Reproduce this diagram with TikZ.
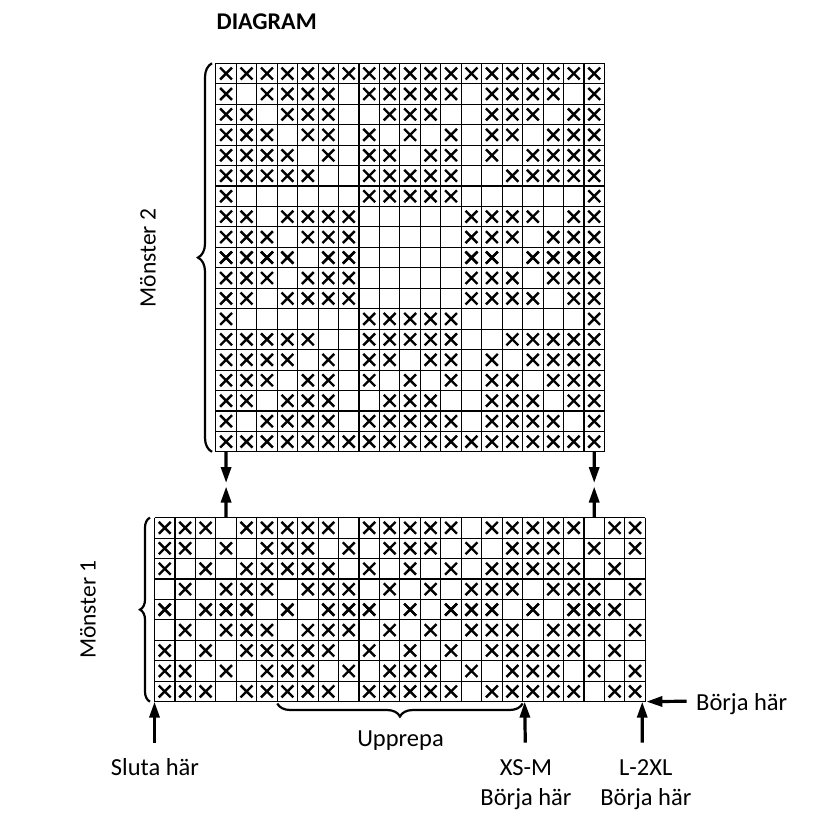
\documentclass[tikz,border=0pt]{standalone}
\usepackage{fontspec}
\setmainfont{Carlito}
\usetikzlibrary{arrows.meta,decorations.pathreplacing}

\begin{document}
\begin{tikzpicture}[x=1pt,y=-1pt,
        gridline/.style={line width=1.1pt},
        stitch/.style={line width=2.4pt},
        bracket/.style={decorate,decoration={brace,amplitude=#1},line width=2.2pt},
        pointer/.style={-{Triangle[length=16pt,width=10pt]},line width=3.2pt},
        lbl/.style={font=\fontsize{24.5}{28}\selectfont,inner sep=0pt}]
  \useasboundingbox (0,0) rectangle (814,830);
  \node[font=\bfseries\fontsize{24}{28}\selectfont] (title) at (266.7,22) {DIAGRAM};

  % Mönster 2
  \begin{scope}[shift={(215.85pt,-63.3pt)},x=20.45pt,y=-20.45pt]
    \foreach \i in {0,...,19} {
      \draw[gridline] (\i,0) -- (\i,19);
      \draw[gridline] (0,\i) -- (19,\i);
    }
    \foreach \r/\cols in {0/{0,...,18},
        1/{0,2,3,4,5,7,8,9,10,11,13,14,15,16,18},
        2/{0,1,3,4,5,8,9,10,13,14,15,17,18},
        3/{0,1,2,4,5,7,9,11,13,14,16,17,18},
        4/{0,1,2,3,5,7,8,10,11,13,15,16,17,18},
        5/{0,1,2,3,4,7,8,9,10,11,14,15,16,17,18},
        6/{0,7,8,9,10,11,18},
        7/{0,1,3,4,5,6,12,13,14,15,17,18},
        8/{0,1,2,4,5,6,12,13,14,16,17,18},
        9/{0,1,2,3,5,6,12,13,15,16,17,18}} {
      \foreach \c in \cols {
        \draw[stitch] (\c+0.21,\r+0.21) -- ++(0.58,0.58) (\c+0.21,\r+0.79) -- ++(0.58,-0.58);
        \draw[stitch] (\c+0.21,18-\r+0.21) -- ++(0.58,0.58) (\c+0.21,18-\r+0.79) -- ++(0.58,-0.58);
      }
    }
    \coordinate (m2-a) at (0.5,19);
    \coordinate (m2-b) at (18.5,19);
  \end{scope}

  % Mönster 1
  \begin{scope}[shift={(154.5pt,-517.6pt)},x=20.45pt,y=-20.45pt]
    \foreach \i in {0,...,24}
      \draw[gridline] (\i,0) -- (\i,9);
    \foreach \i in {0,...,9}
      \draw[gridline] (0,\i) -- (24,\i);
    \foreach \r/\cols in {0/{0,1,2,4,5,6,7,8,10,11,12,13,14,16,17,18,19,20,22,23},
        1/{0,1,3,5,6,7,9,11,12,13,15,17,18,19,21,23},
        2/{0,2,4,5,6,7,8,10,12,14,16,17,18,19,20,22},
        3/{1,3,4,5,7,8,9,11,13,15,16,17,19,20,21,23},
        4/{0,2,3,4,6,8,9,10,12,14,15,16,18,20,21,22}} {
      \foreach \c in \cols {
        \draw[stitch] (\c+0.21,\r+0.21) -- ++(0.58,0.58) (\c+0.21,\r+0.79) -- ++(0.58,-0.58);
        \draw[stitch] (\c+0.21,8-\r+0.21) -- ++(0.58,0.58) (\c+0.21,8-\r+0.79) -- ++(0.58,-0.58);
      }
    }
    \coordinate (m1-a) at (3.5,0);
    \coordinate (m1-b) at (21.5,0);
    \coordinate (m1-sw) at (0,9);
    \coordinate (m1-xsm) at (18.1,9);
    \coordinate (m1-xl) at (23.85,9);
    \coordinate (m1-se) at (24.05,9);
  \end{scope}

  \draw[bracket=14pt] (212,451.85) -- (212,63.3);
  \draw[bracket=10pt] (150,701.65) -- (150,517.6);
  \draw[bracket=13pt] (522.6,703.5) -- (277.3,703.5);

  \node[lbl,font=\fontsize{23.5}{28}\selectfont,rotate=90] (m2-lbl) at (148,258) {Mönster 2};
  \node[lbl,font=\fontsize{23.5}{28}\selectfont,rotate=90] (m1-lbl) at (88,609.6) {Mönster 1};
  \node[lbl,anchor=base] (rep-lbl) at (400.5,746) {Upprepa};
  \node[lbl,anchor=base] (end-lbl) at (155,775) {Sluta här};
  \node[lbl,anchor=base] (xsm-lbl) at (526,775) {XS-M};
  \node[lbl,anchor=base] (xsm-start) at (526,805) {Börja här};
  \node[lbl,anchor=base] (xl-lbl) at (645.8,775) {L-2XL};
  \node[lbl,anchor=base] (xl-start) at (645.8,805) {Börja här};
  \node[lbl,anchor=base west] (start-lbl) at (696,710.7) {Börja här};

  \coordinate (a-dn) at (226.1,483);
  \coordinate (a-up) at (226.1,486.5);
  \coordinate (b-dn) at (594.2,483);
  \coordinate (b-up) at (594.2,486.5);
  \coordinate (end-tail) at (154.5,742.7);
  \coordinate (xsm-tail) at (525.3,742.7);
  \coordinate (xl-tail) at (642.2,742.7);
  \coordinate (start-tail) at (686.7,701.2);

  \draw[pointer] (m2-a) -- (a-dn);
  \draw[pointer] (m1-a) -- (a-up);
  \draw[pointer] (m2-b) -- (b-dn);
  \draw[pointer] (m1-b) -- (b-up);
  \draw[pointer] (end-tail) -- (m1-sw);
  \draw[pointer] (xsm-tail) -- (m1-xsm);
  \draw[pointer] (xl-tail) -- (m1-xl);
  \draw[pointer] (start-tail) -- (m1-se);
\end{tikzpicture}
\end{document}
